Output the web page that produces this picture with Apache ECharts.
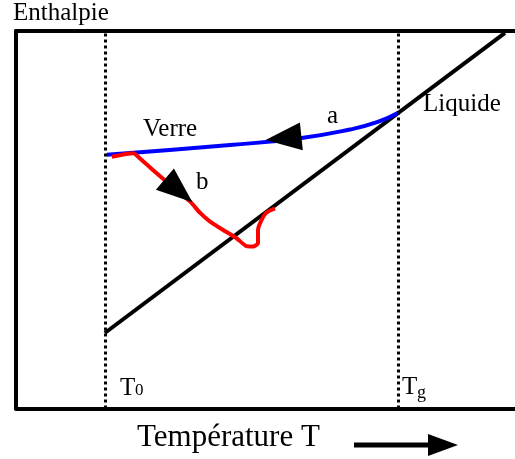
<!DOCTYPE html>
<html>
<head>
<meta charset="utf-8">
<script src="https://cdn.jsdelivr.net/npm/echarts@6/dist/echarts.min.js"></script>
<style>
  html, body { margin: 0; padding: 0; background: #fff; }
  #chart { width: 515px; height: 459px; }
</style>
</head>
<body>
<div id="chart"></div>
<script>
// axes run 0..100 in both directions (schematic diagram, no ticks)
const t0 = 17.8;
const tg = 76.7;

// liquid line (black diagonal)
const liquideLine = [[17.8, 20.0], [98.0, 99.5]];

// curve a : cooling from liquid to glass (blue)
const verreCurve = [
    [18.2, 67.2], [42.9, 69.8], [56.9, 71.6], [66.9, 73.9], [72.5, 75.9], [76.7, 78.4]
];

// curve b : relaxation of the glass (red)
const relaxCurve = [
    [19.2, 66.7], [23.5, 67.6], [24.8, 66.3], [28.2, 62.3], [30.5, 59.7],
    [34.9, 54.8], [36.9, 51.8], [38.9, 49.5], [41.5, 47.3], [44.2, 45.1],
    [46.2, 43.0], [47.5, 42.9], [48.5, 43.8], [48.5, 47.3], [49.2, 49.9],
    [50.2, 51.9], [51.9, 53.0]
];

// arrow heads: [x, y, rotation]
const arrowHeads = [[53.6, 71.6, 96], [32.6, 57.7, -130]];

let chart = echarts.init(document.getElementById("chart"));

const serif = "Liberation Serif, Times New Roman, serif";
function label(text, x, y, size) {
    return {
        type: "text",
        x: x,
        y: y,
        style: {
            text: text,
            font: size + "px " + serif,
            fill: "#000",
            textAlign: "left",
            textVerticalAlign: "middle"
        }
    };
}

const frameAxis = {
    type: "value",
    min: 0,
    max: 100,
    axisLine: { show: true, onZero: false, lineStyle: { color: "#000", width: 4 } },
    axisTick: { show: false },
    axisLabel: { show: false },
    splitLine: { show: false }
};

let option = {
    animation: false,
    grid: { left: 16, right: 0, top: 31, bottom: 50.5 },
    xAxis: [
        Object.assign({}, frameAxis, { position: "bottom" }),
        Object.assign({}, frameAxis, { position: "top" })
    ],
    yAxis: Object.assign({}, frameAxis, { position: "left" }),
    graphic: [
        label("Enthalpie", 13, 13, 25),
        label("Verre", 143, 129.5, 25),
        label("a", 327, 116.5, 25),
        label("b", 196, 182.5, 25),
        label("Liquide", 423, 104.5, 25),
        label("T", 120, 388.5, 25),
        label("0", 135, 391, 17),
        label("T", 402, 387.5, 25),
        label("g", 417, 393, 18),
        label("Température T", 137, 437.5, 31),
        {
            type: "line",
            shape: { x1: 354, y1: 445, x2: 430, y2: 445 },
            style: { stroke: "#000", lineWidth: 5 }
        },
        {
            type: "polygon",
            shape: { points: [[428, 434], [458, 445], [428, 456]] },
            style: { fill: "#000" }
        }
    ],
    series: [
        {
            name: "Liquide",
            type: "line",
            data: liquideLine,
            showSymbol: false,
            lineStyle: { color: "#000", width: 4 },
            markLine: {
                silent: true,
                symbol: "none",
                label: { show: false },
                lineStyle: { color: "#000", width: 3, type: [3, 3] },
                data: [{ xAxis: t0 }, { xAxis: tg }]
            }
        },
        {
            name: "a",
            type: "line",
            data: verreCurve,
            smooth: 0.5,
            showSymbol: false,
            lineStyle: { color: "#0000ff", width: 4 }
        },
        {
            name: "b",
            type: "line",
            data: relaxCurve,
            smooth: 0.2,
            showSymbol: false,
            lineStyle: { color: "#ff0000", width: 4 }
        },
        {
            name: "fleches",
            type: "scatter",
            data: arrowHeads.map(d => ({ value: [d[0], d[1]], symbolRotate: d[2] })),
            symbol: "triangle",
            symbolSize: [28, 36],
            itemStyle: { color: "#000", opacity: 1 },
            z: 5
        }
    ]
};
chart.setOption(option);
</script>
</body>
</html>
